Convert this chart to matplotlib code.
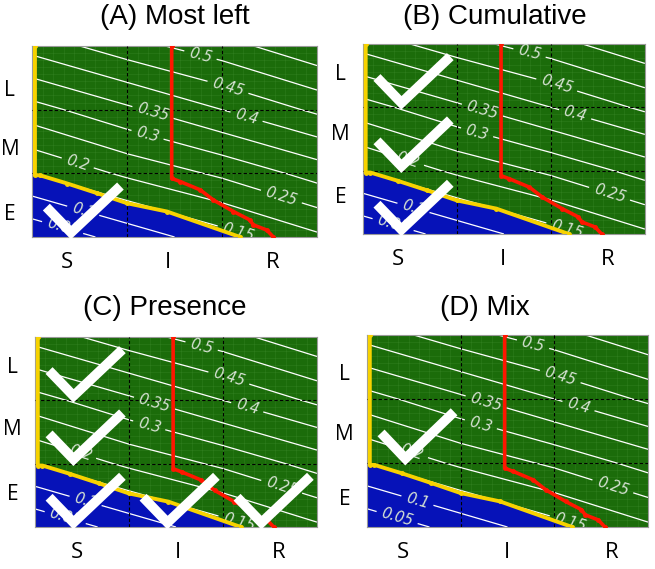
import numpy as np
import matplotlib
matplotlib.use('Agg')
import matplotlib.pyplot as plt

# ── data ──
titles = ['(A) Most left', '(B) Cumulative', '(C) Presence', '(D) Mix']
col_labels = ['S', 'I', 'R']
row_labels = ['E', 'M', 'L']

# value surface sampled at cell corners (x = S..R, y = E..L)
grid_x = [0, 1, 2, 3]
grid_y = [0, 1, 2, 3]
z_grid = [[0.01, 0.07, 0.13, 0.19],
          [0.15, 0.21, 0.26, 0.32],
          [0.28, 0.34, 0.40, 0.46],
          [0.42, 0.48, 0.53, 0.59]]
levels = [0.05, 0.1, 0.15, 0.2, 0.25, 0.3, 0.35, 0.4, 0.45, 0.5, 0.55]
label_levels = [0.05, 0.1, 0.15, 0.2, 0.25, 0.3, 0.35, 0.4, 0.45, 0.5]
label_pos = [(0.32, 0.14), (0.54, 0.42), (2.17, 0.08), (0.48, 1.16), (2.63, 0.66),
             (1.22, 1.63), (1.27, 1.95), (2.26, 1.90), (2.06, 2.34), (1.77, 2.84)]

# yellow boundary (blue region below it)
yellow_x = [0.03, 0.03, 0.08, 0.37, 0.68, 1.00, 1.42, 2.19]
yellow_y = [3.00, 0.97, 0.97, 0.84, 0.69, 0.53, 0.40, 0.00]
# red boundary
red_x = [1.47, 1.47, 1.56, 1.77, 1.91, 2.12, 2.29, 2.33, 2.47, 2.54]
red_y = [3.00, 0.92, 0.87, 0.74, 0.58, 0.40, 0.27, 0.19, 0.11, 0.00]

# checked cells per panel (column, row)
checks = [[(0, 0)],
          [(0, 2), (0, 1), (0, 0)],
          [(0, 2), (0, 1), (0, 0), (1, 0), (2, 0)],
          [(0, 1)]]

# tick label positions per panel
xtick_pos = [[0.37, 1.43, 2.53], [0.37, 1.49, 2.60], [0.45, 1.52, 2.59], [0.38, 1.49, 2.61]]
ytick_pos = [[0.39, 1.41, 2.34], [0.62, 1.61, 2.56], [0.55, 1.58, 2.56], [0.47, 1.48, 2.42]]

# axes rectangles (figure fraction)
rects = [[0.049, 0.5835, 0.435, 0.3357],
         [0.554, 0.5888, 0.4305, 0.334],
         [0.0534, 0.0738, 0.4305, 0.334],
         [0.5603, 0.0738, 0.429, 0.3374]]
title_xy = [(175, 17), (495, 17), (165, 308), (485, 308)]

GREEN = '#1b6c0a'
BLUE = '#0612b8'
YELLOW = '#f7d200'
RED = '#ff1600'
CHECK = [(0.15, 0.47), (0.41, 0.07), (0.93, 0.80)]

W, H = 655, 569
fig = plt.figure(figsize=(W/100, H/100), dpi=100)

for i in range(4):
    ax = fig.add_axes(rects[i])
    ax.set_facecolor(GREEN)
    ax.set_xlim(0, 3); ax.set_ylim(0, 3)

    # faint fine mesh
    ax.set_xticks(np.linspace(0, 3, 28), minor=True)
    ax.set_yticks(np.linspace(0, 3, 28), minor=True)
    ax.grid(which='minor', color='#5fa84e', lw=0.5, alpha=0.22, zorder=0.5)
    ax.set_axisbelow(True)

    # blue region
    ax.fill_between([0] + yellow_x[2:], 0, [yellow_y[2]] + yellow_y[2:],
                    color=BLUE, lw=0, zorder=1)

    cs = ax.contour(grid_x, grid_y, z_grid, levels=levels, colors='white',
                    linewidths=0.9, zorder=2)
    lab = ax.clabel(cs, label_levels, inline=True, inline_spacing=5,
                    fmt=lambda v: f'{v:g}', fontsize=10.5, manual=label_pos)
    for t in lab:
        t.set_color('#d6e2d3'); t.set_fontstyle('italic')

    for v in (1, 2):
        ax.axvline(v, color='black', ls=(0, (3, 2)), lw=0.8, zorder=3)
        ax.axhline(v, color='black', ls=(0, (3, 2)), lw=0.8, zorder=3)

    ax.plot(yellow_x, yellow_y, color=YELLOW, lw=2.8, marker='o', ms=2.5, zorder=4)
    ax.plot(red_x, red_y, color=RED, lw=2.6, marker='o', ms=2.5, zorder=4)

    for c, r in checks[i]:
        ax.plot([c + p[0] for p in CHECK], [r + p[1] for p in CHECK], color='white',
                lw=7, solid_capstyle='butt', solid_joinstyle='miter', zorder=5,
                clip_on=False)

    ax.set_xticks(xtick_pos[i], col_labels)
    ax.set_yticks(ytick_pos[i], row_labels)
    ax.tick_params(which='both', length=0)
    ax.tick_params(axis='x', labelsize=16, pad=11)
    ax.tick_params(axis='y', labelsize=15, pad=16)
    for t in ax.get_xticklabels() + ax.get_yticklabels():
        t.set_family('Open Sans')
    for t in ax.get_yticklabels():
        t.set_ha('center')
    for s in ax.spines.values():
        s.set_color('#9a9a9a'); s.set_linewidth(0.8)

    fig.text(title_xy[i][0]/W, 1 - title_xy[i][1]/H, titles[i], ha='center', va='center',
             fontsize=20, family='Liberation Sans')

fig.savefig('out.png', dpi=100)
